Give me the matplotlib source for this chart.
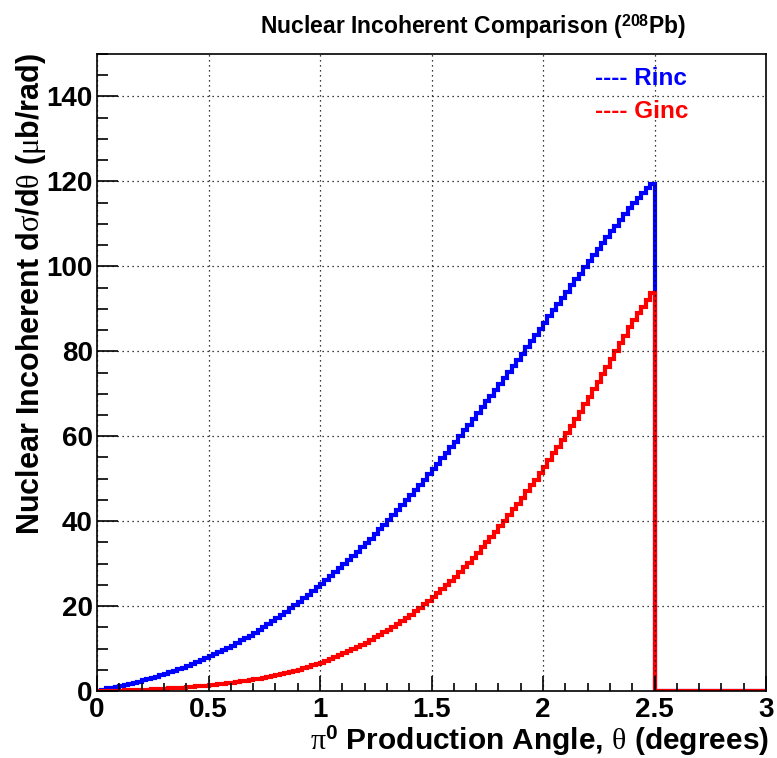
import numpy as np
import matplotlib
matplotlib.use("Agg")
import matplotlib.pyplot as plt
from matplotlib.ticker import MultipleLocator

plt.rcParams['font.family'] = ['Liberation Sans', 'DejaVu Sans']
plt.rcParams['mathtext.fontset'] = 'custom'
plt.rcParams['mathtext.rm'] = 'Liberation Serif'
plt.rcParams['mathtext.it'] = 'Liberation Serif:italic'
plt.rcParams['mathtext.bf'] = 'Liberation Sans:bold'
plt.rcParams['mathtext.sf'] = 'Liberation Sans'

# ---- data (bin width 0.02 deg, 0..3 deg) ----
x_min, x_max, n_bins = 0.0, 3.0, 150

rinc = [
    0.1, 0.3, 0.6, 0.8, 1.0,
    1.2, 1.5, 1.7, 1.9, 2.2,
    2.5, 2.8, 3.1, 3.4, 3.7,
    4.0, 4.4, 4.8, 5.1, 5.5,
    5.9, 6.4, 6.8, 7.2, 7.7,
    8.2, 8.7, 9.2, 9.7, 10.2,
    10.7, 11.3, 11.9, 12.4, 13.0,
    13.7, 14.4, 15.1, 15.8, 16.5,
    17.2, 17.9, 18.7, 19.5, 20.2,
    21.0, 21.9, 22.7, 23.5, 24.4,
    25.3, 26.2, 27.1, 28.0, 28.9,
    29.8, 30.8, 31.8, 32.8, 33.8,
    34.8, 35.9, 37.0, 38.1, 39.2,
    40.3, 41.4, 42.6, 43.8, 44.9,
    46.1, 47.3, 48.6, 49.8, 51.0,
    52.2, 53.5, 54.8, 56.1, 57.4,
    58.7, 60.0, 61.4, 62.7, 64.0,
    65.4, 66.8, 68.2, 69.5, 70.9,
    72.3, 73.7, 75.2, 76.6, 78.0,
    79.4, 80.9, 82.4, 83.8, 85.3,
    86.7, 88.2, 89.7, 91.1, 92.6,
    94.0, 95.5, 96.9, 98.3, 99.8,
    101.2, 102.6, 104.1, 105.5, 106.9,
    108.3, 109.6, 111.0, 112.4, 113.7,
    115.0, 116.2, 117.3, 118.4, 119.5,
    0, 0, 0, 0, 0, 0, 0, 0, 0, 0, 0, 0, 0, 0, 0,
    0, 0, 0, 0, 0, 0, 0, 0, 0, 0,
]

ginc = [
    0.01, 0.02, 0.04, 0.06, 0.07,
    0.10, 0.13, 0.17, 0.20, 0.23,
    0.28, 0.33, 0.38, 0.43, 0.48,
    0.54, 0.61, 0.68, 0.75, 0.82,
    0.90, 0.99, 1.08, 1.17, 1.26,
    1.36, 1.48, 1.60, 1.72, 1.84,
    1.98, 2.13, 2.28, 2.43, 2.58,
    2.75, 2.94, 3.13, 3.32, 3.51,
    3.73, 3.99, 4.25, 4.51, 4.77,
    5.06, 5.38, 5.70, 6.02, 6.34,
    6.71, 7.13, 7.55, 7.97, 8.39,
    8.85, 9.35, 9.85, 10.35, 10.85,
    11.4, 12.0, 12.6, 13.2, 13.8,
    14.45, 15.15, 15.85, 16.55, 17.25,
    18.0, 18.8, 19.65, 20.5, 21.3,
    22.2, 23.1, 24.05, 25.0, 25.9,
    26.95, 28.05, 29.15, 30.25, 31.35,
    32.5, 33.8, 35.0, 36.2, 37.5,
    38.8, 40.1, 41.45, 42.8, 44.1,
    45.5, 47.0, 48.4, 49.8, 51.3,
    52.8, 54.4, 55.95, 57.5, 59.1,
    60.7, 62.4, 64.1, 65.8, 67.5,
    69.2, 71.0, 72.8, 74.6, 76.4,
    78.2, 80.1, 81.9, 83.7, 85.6,
    87.3, 88.9, 90.5, 92.1, 93.7,
    0, 0, 0, 0, 0, 0, 0, 0, 0, 0, 0, 0, 0, 0, 0,
    0, 0, 0, 0, 0, 0, 0, 0, 0, 0,
]

series_names = ["Rinc", "Ginc"]
series_colors = ["#0000ff", "#ff0000"]

xtick_vals = [0, 0.5, 1, 1.5, 2, 2.5, 3]
xtick_labels = ["0", "0.5", "1", "1.5", "2", "2.5", "3"]

title = r"Nuclear Incoherent Comparison ($^{\mathbf{208}}$Pb)"
xlabel = r"$\mathrm{\pi}^{\mathbf{0}}$ Production Angle, $\mathrm{\theta}$ (degrees)"
ylabel = r"Nuclear Incoherent d$\mathrm{\sigma}$/d$\mathrm{\theta}$ ($\mathrm{\mu}$b/rad)"

# ---- figure ----
W, H = 777, 758
fig = plt.figure(figsize=(W / 100, H / 100), dpi=100)
ax = fig.add_axes([97 / W, 1 - 691 / H, (766 - 97) / W, (691 - 54) / H])

edges = np.linspace(x_min, x_max, n_bins + 1)
for vals, col in zip([rinc, ginc], series_colors):
    ax.stairs(vals, edges, color=col, lw=3.0, baseline=None)

ax.set_xlim(0, 3)
ax.set_ylim(0, 150)
ax.xaxis.set_minor_locator(MultipleLocator(0.1))
ax.yaxis.set_major_locator(MultipleLocator(20))
ax.yaxis.set_minor_locator(MultipleLocator(5))
ax.set_xticks(xtick_vals)
ax.set_xticklabels(xtick_labels)

ax.grid(True, which='major', color='black', linestyle=(0, (1, 3)), lw=0.9)
ax.tick_params(which='both', direction='in', top=False, right=False, width=1.2)
ax.tick_params(axis='x', which='major', length=11, labelsize=20, pad=4)
ax.tick_params(axis='x', which='minor', length=6)
ax.tick_params(axis='y', which='major', length=15, labelsize=20, pad=3)
ax.tick_params(axis='y', which='minor', length=8)
for lab in ax.get_xticklabels() + ax.get_yticklabels():
    lab.set_fontweight('bold')
for s in ax.spines.values():
    s.set_linewidth(1.2)

fig.text(769 / W, 1 - 750 / H, xlabel, ha='right', va='baseline',
         fontsize=21.5, fontweight='bold')
fig.text(31 / W, 1 - 53 / H, ylabel, ha='center', va='top', rotation=90,
         fontsize=22, fontweight='bold')

fig.text(473 / W, 1 - 27 / H, title, ha='center', va='center',
         fontsize=16.5, fontweight='bold')

for i, (name, col) in enumerate(zip(series_names, series_colors)):
    ax.text(0.745, 0.961 - i * 0.052, "---- " + name, color=col,
            transform=ax.transAxes, ha='left', va='center',
            fontsize=17.5, fontweight='bold')

fig.savefig("out.png", dpi=100)
